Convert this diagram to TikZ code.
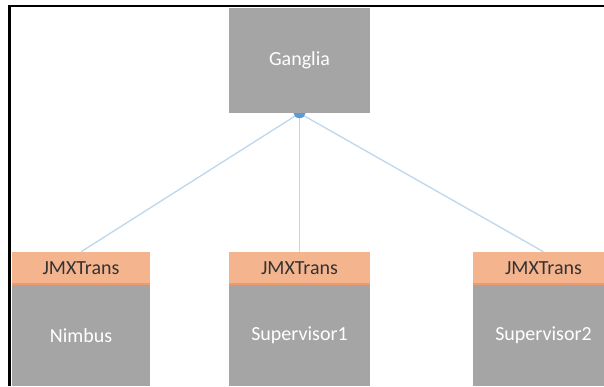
\documentclass[tikz,border=0pt]{standalone}
\usepackage{fontspec}
\setmainfont{Carlito}
\usetikzlibrary{positioning}
\definecolor{boxgray}{HTML}{A5A5A5}
\definecolor{hdrfill}{HTML}{F4B48E}
\definecolor{hdrline}{HTML}{EE9A6C}
\definecolor{linkblue}{HTML}{BDD7EE}
\definecolor{dotblue}{HTML}{5B9BD5}
\tikzset{
  graybox/.style={fill=boxgray,inner sep=0pt,text=white,font=\fontsize{20}{24}\selectfont},
  hdrbox/.style={fill=hdrfill,inner sep=0pt,text=black!80,font=\fontsize{20}{24}\selectfont,minimum height=32pt},
  link/.style={linkblue,line width=1.3pt}
}
\begin{document}
\begin{tikzpicture}[x=1pt,y=1pt]
		\useasboundingbox (0,0) rectangle (604,386);
		\fill[white] (0,0) rectangle (604,386);
		% nodes
		\node[graybox,minimum width=141pt,minimum height=105pt] (ganglia) at (299.5,325.5) {Ganglia};
		\node[hdrbox,minimum width=138pt] (jmxA) at (81,118) {JMXTrans};
		\node[hdrbox,minimum width=141pt] (jmxB) at (299.5,118) {JMXTrans};
		\node[hdrbox,minimum width=141pt] (jmxC) at (543.5,118) {JMXTrans};
		\node[graybox,minimum width=138pt,minimum height=102pt,below=0pt of jmxA] (nimbus) {Nimbus};
		\node[graybox,minimum width=141pt,minimum height=102pt,below=0pt of jmxB] (sup1) {Supervisor1};
		\node[graybox,minimum width=141pt,minimum height=102pt,below=0pt of jmxC] (sup2) {Supervisor2};
		\foreach \Hdr in {jmxA,jmxB,jmxC}{
			\draw[hdrline,line width=1.5pt] (\Hdr.south west) -- (\Hdr.south east);
		}
		% links
		\foreach \Hdr in {jmxA,jmxB,jmxC}{
			\draw[link] (ganglia.south) -- (\Hdr.north);
		}
		\fill[dotblue] (ganglia.south) ++(-6,0) arc[start angle=180,end angle=360,x radius=6,y radius=5] -- cycle;
		% frame
		\draw[line width=2.2pt] (9.5,0) -- (9.5,380) -- (604,380);
	\end{tikzpicture}
\end{document}
